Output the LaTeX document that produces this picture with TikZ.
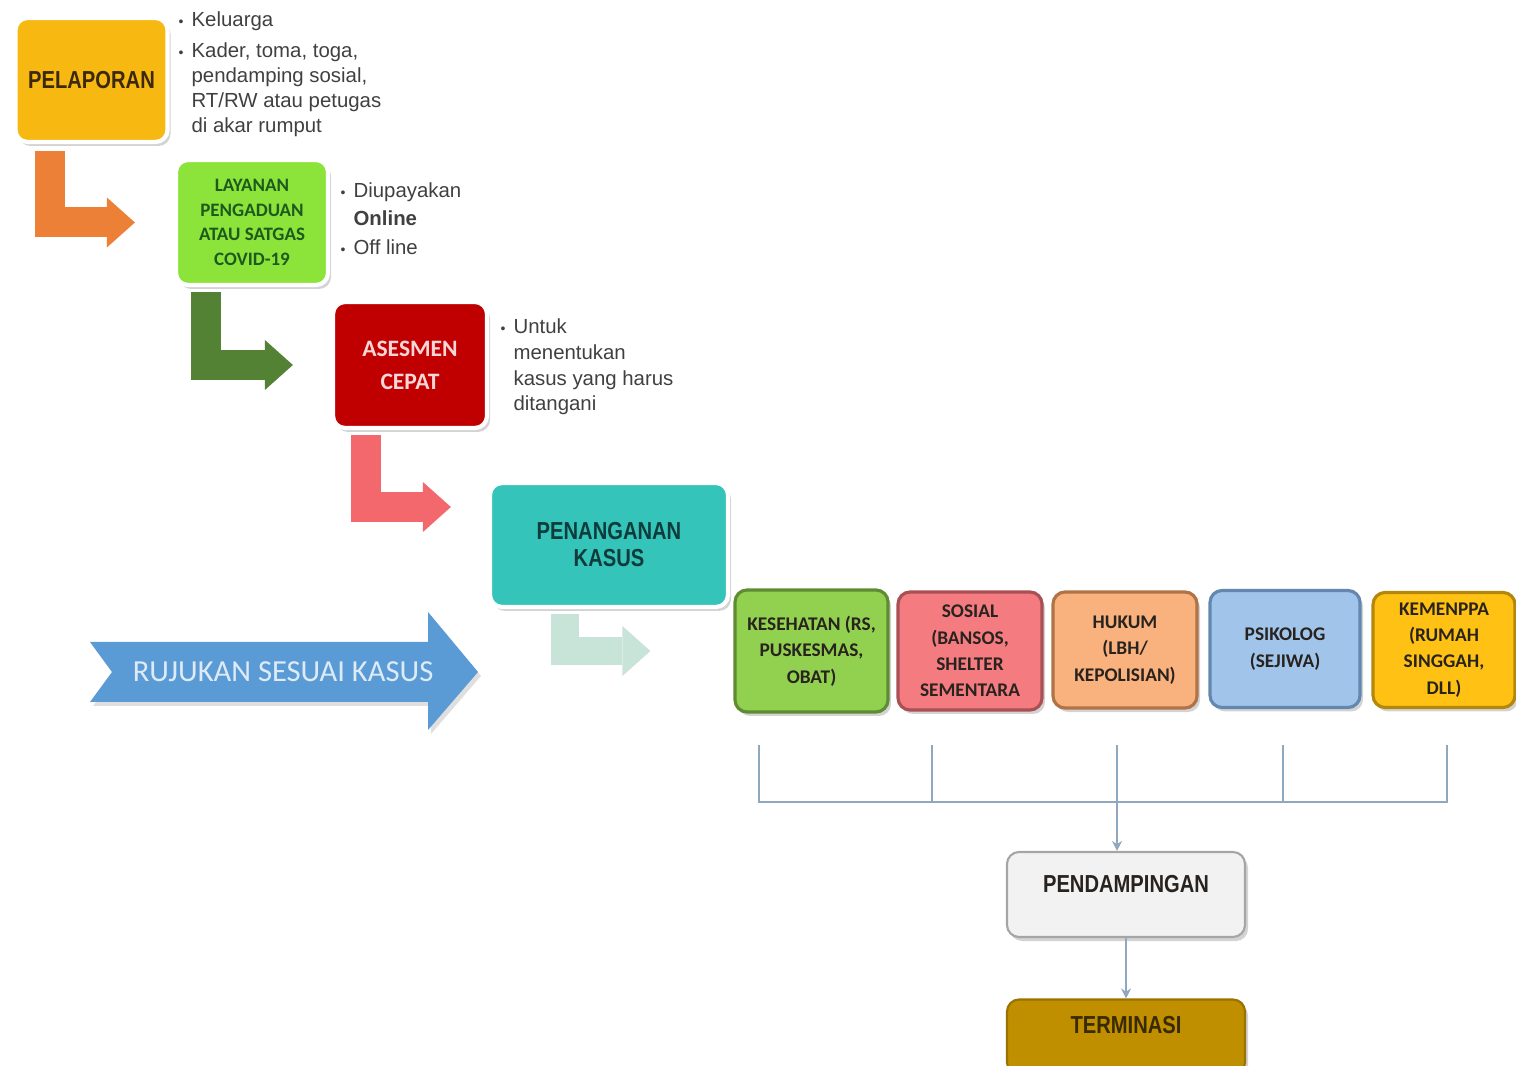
\documentclass[tikz,border=0pt]{standalone}
\usepackage{fontspec}
\setmainfont{Liberation Sans}
\newfontfamily\narrowfont{Liberation Sans}[FakeStretch=0.82]
\newfontfamily\calfont{Carlito}
\usetikzlibrary{arrows.meta,shadows}

\definecolor{pelcol}{RGB}{247,184,18}
\definecolor{peltext}{RGB}{60,40,10}
\definecolor{laycol}{RGB}{140,228,58}
\definecolor{laytext}{RGB}{30,90,30}
\definecolor{asecol}{RGB}{192,0,0}
\definecolor{asetext}{RGB}{250,215,215}
\definecolor{pencol}{RGB}{52,196,186}
\definecolor{pentext}{RGB}{15,60,58}
\definecolor{kescol}{RGB}{146,208,80}
\definecolor{kesline}{RGB}{95,140,50}
\definecolor{soscol}{RGB}{244,124,128}
\definecolor{sosline}{RGB}{170,80,85}
\definecolor{hukcol}{RGB}{249,178,125}
\definecolor{hukline}{RGB}{175,115,70}
\definecolor{psicol}{RGB}{160,196,234}
\definecolor{psiline}{RGB}{100,135,175}
\definecolor{kemcol}{RGB}{255,194,20}
\definecolor{kemline}{RGB}{180,135,10}
\definecolor{pendcol}{RGB}{242,242,242}
\definecolor{pendline}{RGB}{165,165,165}
\definecolor{termcol}{RGB}{191,143,0}
\definecolor{termtext}{RGB}{58,42,0}
\definecolor{boxtext}{RGB}{40,35,30}
\definecolor{orangeL}{RGB}{236,128,55}
\definecolor{greenL}{RGB}{84,130,53}
\definecolor{pinkL}{RGB}{242,104,108}
\definecolor{faintL}{RGB}{200,228,216}
\definecolor{rujcol}{RGB}{91,155,213}
\definecolor{rujtext}{RGB}{221,235,247}
\definecolor{linecol}{RGB}{143,168,190}
\definecolor{notecol}{RGB}{64,64,64}

\newcommand{\notebullet}{{\fontsize{4}{4}\selectfont\textbullet}}

\begin{document}
\begin{tikzpicture}[
  box/.style={rounded corners=0.12cm, minimum width=1.52cm, minimum height=1.24cm, align=center, inner sep=1pt, draw=white, line width=1.2pt, drop shadow={opacity=0.35,shadow xshift=0.03cm,shadow yshift=-0.04cm}},
  refbox/.style={box, line width=0.9pt, minimum width=1.44cm, minimum height=1.18cm, text=boxtext, font=\calfont\bfseries\fontsize{5.5}{7.5}\selectfont},
  lconn/.style={line width=0.3cm, -{Triangle[length=0.28cm,width=0.5cm,line width=0pt]}},
  conn/.style={draw=linecol, line width=0.5pt},
  note/.style={anchor=base west, inner sep=0pt, text=notecol, font=\fontsize{5.8}{7.1}\selectfont}]
\useasboundingbox (0,0) rectangle (15.16,10.65);

\node[box, fill=pelcol, text=peltext, font=\narrowfont\bfseries\fontsize{7}{8}\selectfont] (pel) at (0.915,9.85) {PELAPORAN};
\node[box, fill=laycol, text=laytext, minimum height=1.25cm, font=\calfont\bfseries\fontsize{5.4}{7}\selectfont] (lay) at (2.52,8.425) {LAYANAN\\PENGADUAN\\ATAU SATGAS\\COVID-19};
\node[box, fill=asecol, text=asetext, minimum width=1.54cm, minimum height=1.26cm, font=\calfont\bfseries\fontsize{6.7}{9.4}\selectfont] (ase) at (4.10,7.00) {ASESMEN\\CEPAT};
\node[box, fill=pencol, text=pentext, minimum width=2.38cm, font=\narrowfont\bfseries\fontsize{7}{7.7}\selectfont] (pen) at (6.09,5.20) {PENANGANAN\\KASUS};

\node[note] (pelnote) at (1.78,10.38) {\begin{tabular}[t]{@{}l@{\hspace{0.08cm}}l@{}}\notebullet & Keluarga\\[1.6pt] \notebullet & Kader, toma, toga,\\ & pendamping sosial,\\ & RT/RW atau petugas\\ & di akar rumput\end{tabular}};
\node[note, font=\fontsize{5.8}{7.7}\selectfont] (laynote) at (3.40,8.67) {\begin{tabular}[t]{@{}l@{\hspace{0.08cm}}l@{}}\notebullet & Diupayakan\\ & \textbf{Online}\\[0.8pt] \notebullet & Off line\end{tabular}};
\node[note, font=\fontsize{5.8}{7.3}\selectfont] (asenote) at (5.00,7.31) {\begin{tabular}[t]{@{}l@{\hspace{0.08cm}}l@{}}\notebullet & Untuk\\ & menentukan\\ & kasus yang harus\\ & ditangani\end{tabular}};

\node[refbox, fill=kescol, draw=kesline, minimum width=1.53cm, minimum height=1.22cm] (kes) at (8.115,4.14) {KESEHATAN (RS,\\PUSKESMAS,\\OBAT)};
\node[refbox, fill=soscol, draw=sosline] (sos) at (9.70,4.14) {SOSIAL\\(BANSOS,\\SHELTER\\SEMENTARA};
\node[refbox, fill=hukcol, draw=hukline, minimum height=1.16cm] (huk) at (11.25,4.15) {HUKUM\\(LBH/\\KEPOLISIAN)};
\node[refbox, fill=psicol, draw=psiline, minimum width=1.50cm, minimum height=1.17cm] (psi) at (12.85,4.16) {PSIKOLOG\\(SEJIWA)};
\node[refbox, fill=kemcol, draw=kemline, minimum width=1.42cm, minimum height=1.15cm] (kem) at (14.44,4.15) {KEMENPPA\\(RUMAH\\SINGGAH,\\DLL)};

\node[box, fill=pendcol, draw=pendline, line width=0.6pt, minimum width=2.38cm, minimum height=0.85cm, text=boxtext, text height=0.18cm, text depth=0.23cm, font=\narrowfont\bfseries\fontsize{7}{8}\selectfont] (pend) at (11.26,1.705) {PENDAMPINGAN};
\node[box, fill=termcol, draw=termcol!80!black, line width=0.6pt, minimum width=2.38cm, minimum height=0.75cm, text=termtext, text height=0.18cm, text depth=0.26cm, font=\narrowfont\bfseries\fontsize{7}{8}\selectfont] (term) at (11.26,0.28) {TERMINASI};

\draw[lconn, orangeL] ([shift={(0.37,-0.07)}]pel.south west) |- ([xshift=-0.39cm]lay.west);
\draw[lconn, greenL] ([shift={(0.325,-0.05)}]lay.south west) |- ([xshift=-0.38cm]ase.west);
\draw[lconn, pinkL] ([shift={(0.35,-0.05)}]ase.south west) |- ([shift={(-0.37,0.38)}]pen.west);
\draw[lconn, faintL, line width=0.28cm] ([shift={(0.77,-0.05)}]pen.south west) |- ([xshift=-0.83cm]kes.west);

\fill[rujcol, drop shadow={opacity=0.25,shadow xshift=0.03cm,shadow yshift=-0.04cm}] (0.90,4.23) -- (4.28,4.23) -- (4.28,4.53) -- (4.78,3.93) -- (4.28,3.35) -- (4.28,3.63) -- (0.90,3.63) -- (1.12,3.93) -- cycle;
\node[text=rujtext, font=\calfont\fontsize{8.7}{10}\selectfont] (ruj) at (2.83,3.93) {RUJUKAN SESUAI KASUS};

\coordinate (t1) at (7.59,3.20);
\coordinate (t2) at (9.32,3.20);
\coordinate (t3) at (11.17,3.20);
\coordinate (t4) at (12.83,3.20);
\coordinate (t5) at (14.47,3.20);
\coordinate (bar) at (0,2.63);
\draw[conn] (t1) -- (t1 |- bar) -- (t5 |- bar) -- (t5);
\draw[conn] (t2) -- (t2 |- bar);
\draw[conn] (t4) -- (t4 |- bar);
\draw[conn, -{Stealth[length=1mm,width=1mm]}] (t3) -- (t3 |- pend.north);
\draw[conn, -{Stealth[length=1mm,width=1mm]}] (pend.south) -- (term.north);
\end{tikzpicture}
\end{document}
